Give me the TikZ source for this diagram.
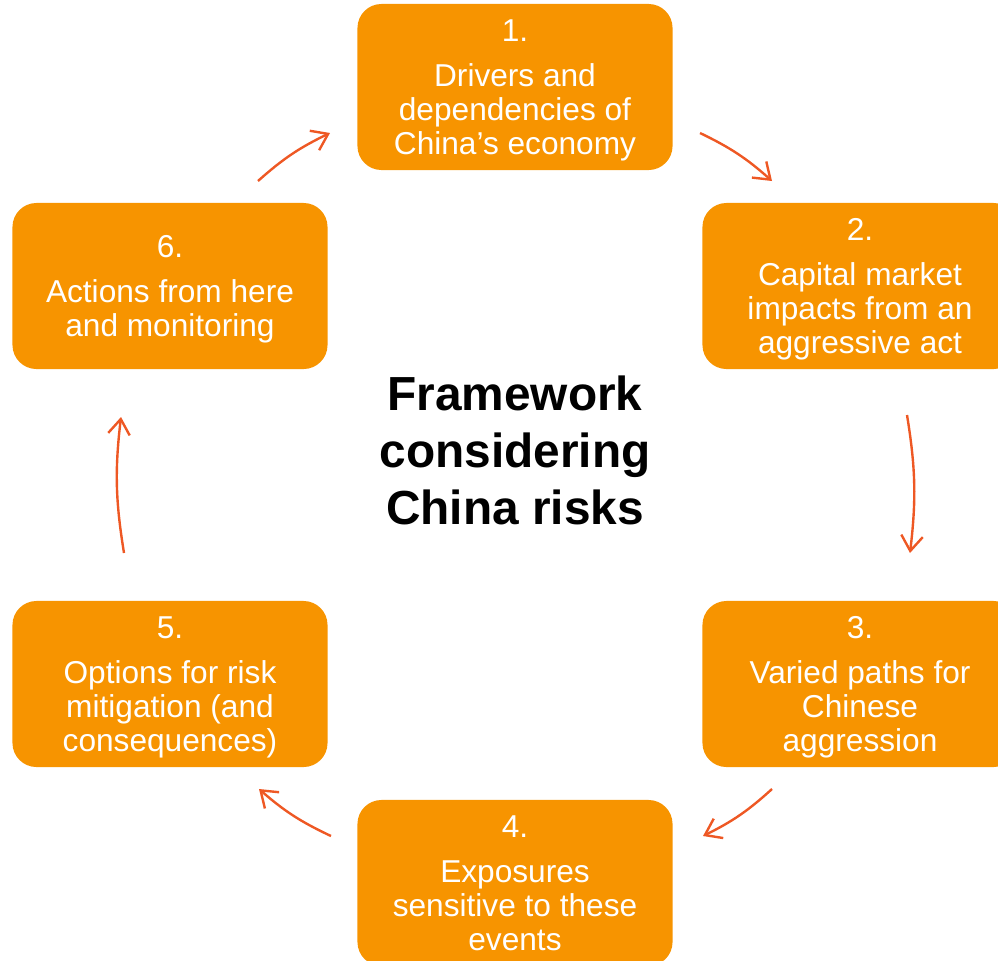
\documentclass[tikz,border=0pt]{standalone}
\usepackage{fontspec}
\setmainfont{Liberation Sans}
\usetikzlibrary{arrows.meta}
\definecolor{boxorange}{RGB}{247,148,0}
\definecolor{arrowred}{RGB}{238,88,36}

\begin{document}
\begin{tikzpicture}[x=0.025cm,y=-0.025cm,
  stage/.style={fill=boxorange,rounded corners=0.6cm,minimum width=7.875cm,
    minimum height=4.15cm,inner sep=0pt,text depth=0pt,align=center,text=white,
    font=\fontsize{22.5}{24}\selectfont},
  loop arrow/.style={draw=arrowred,line width=1.7pt,
    -{Straight Barb[length=3.8mm,width=5.4mm]},bend left=8}]
\useasboundingbox (0,0) rectangle (998,960);

% the six stages
\node[stage] (s1) at (515,87) {1.\\[8pt]Drivers and\\dependencies of\\China’s economy};
\node[stage] (s2) at (860,286) {2.\\[8pt]Capital market\\impacts from an\\aggressive act};
\node[stage] (s3) at (860,684) {3.\\[8pt]Varied paths for\\Chinese\\aggression};
\node[stage] (s4) at (515,883) {4.\\[8pt]Exposures\\sensitive to these\\events};
\node[stage] (s5) at (170,684) {5.\\[8pt]Options for risk\\mitigation (and\\consequences)};
\node[stage] (s6) at (170,286) {6.\\[8pt]Actions from here\\and monitoring};

% title in the middle
\node[font=\bfseries\fontsize{34}{40.5}\selectfont,align=center] (title) at (515,450)
  {Framework\\considering\\China risks};

% arrow ends between the stages
\coordinate (a12) at (700,133); \coordinate (b12) at (772,181);
\coordinate (a23) at (907,415); \coordinate (b23) at (910,553);
\coordinate (a34) at (772,789); \coordinate (b34) at (703,836);
\coordinate (a45) at (331,836); \coordinate (b45) at (259,789);
\coordinate (a56) at (124,553); \coordinate (b56) at (121,417);
\coordinate (a61) at (258,181); \coordinate (b61) at (330,133);

\draw[loop arrow] (a12) to (b12);
\draw[loop arrow] (a23) to (b23);
\draw[loop arrow] (a34) to (b34);
\draw[loop arrow] (a45) to (b45);
\draw[loop arrow] (a56) to (b56);
\draw[loop arrow] (a61) to (b61);
\end{tikzpicture}
\end{document}
